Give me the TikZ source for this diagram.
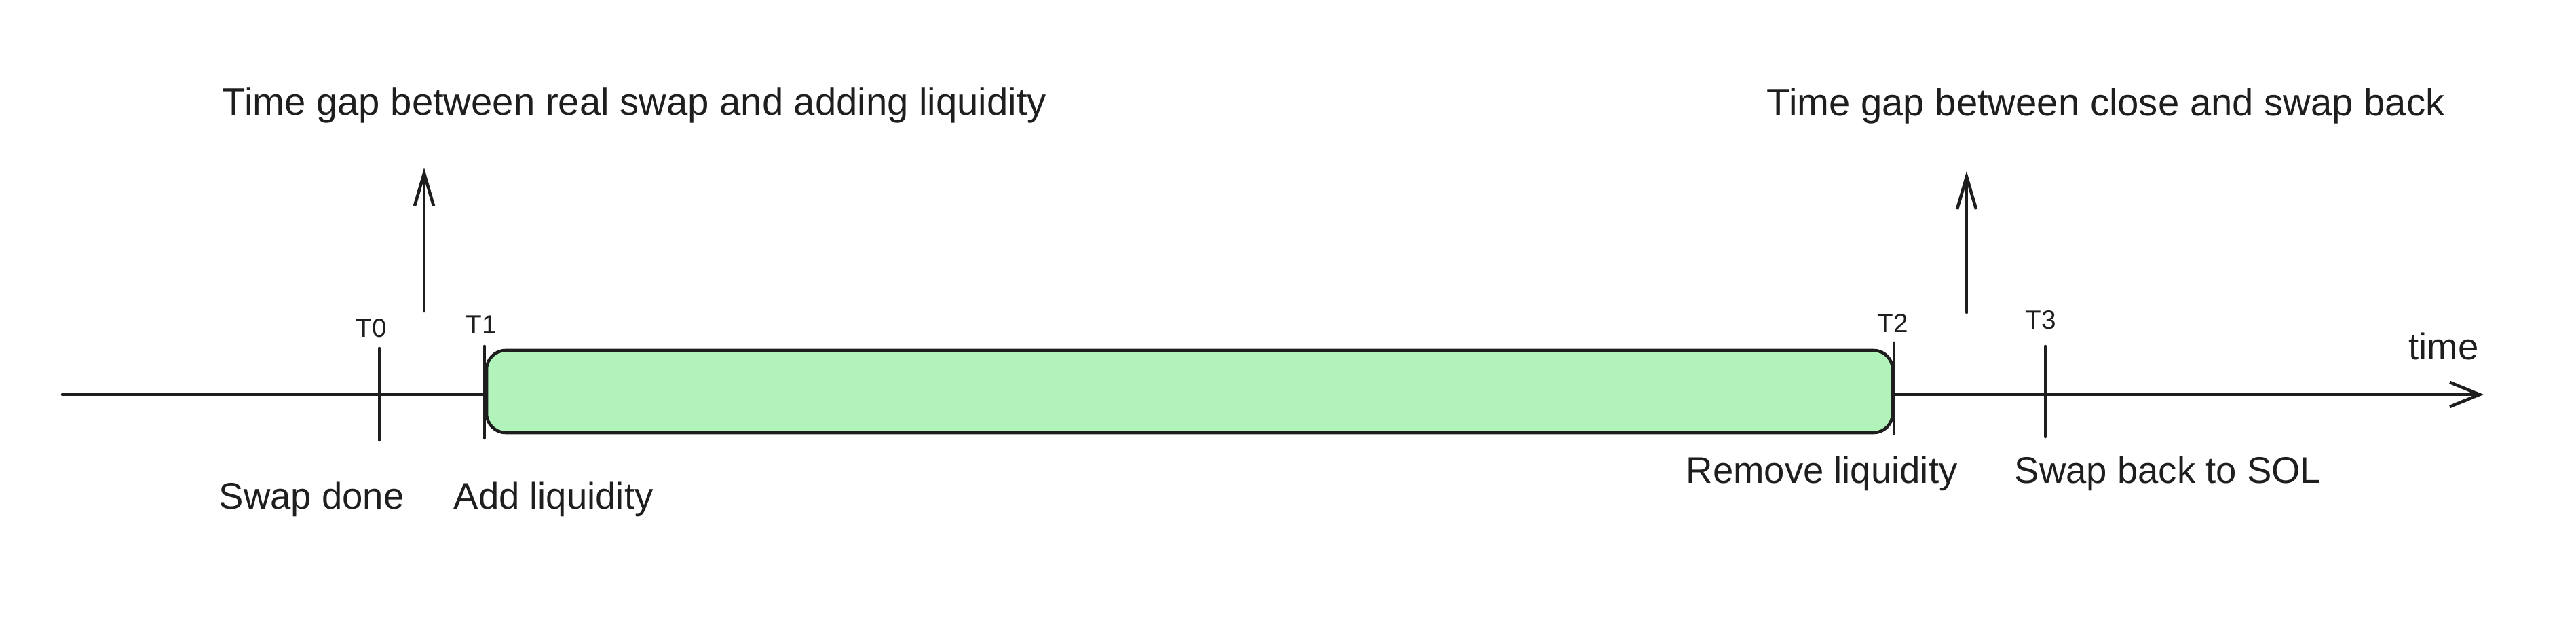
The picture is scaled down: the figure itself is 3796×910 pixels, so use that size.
\documentclass[tikz,border=0pt]{standalone}
\usepackage{fontspec}
\setmainfont{Liberation Sans}
\usetikzlibrary{arrows.meta}
\definecolor{ink}{HTML}{1E1E1E}
\definecolor{boxgreen}{HTML}{B2F2BB}
\tikzset{
  px/.style={x=0.01cm,y=-0.01cm},
  tickline/.style={draw=ink,line width=1.3pt,line cap=round},
  gaparrow/.style={draw=ink,line width=1.3pt,line cap=round,-{Straight Barb[length=0.48cm,width=0.28cm,line width=1.3pt]}},
  timearrow/.style={draw=ink,line width=1.3pt,line cap=round,-{Straight Barb[length=0.44cm,width=0.36cm,line width=1.3pt]}},
  phasebox/.style={draw=ink,fill=boxgreen,line width=1.3pt,rounded corners=0.28cm},
  bigtext/.style={text=ink,inner sep=0pt,font=\fontsize{16}{19}\selectfont},
  midtext/.style={text=ink,inner sep=0pt,font=\fontsize{15.5}{18}\selectfont},
  ticktext/.style={text=ink,inner sep=0pt,font=\fontsize{11}{13}\selectfont},
}
\begin{document}
\begin{tikzpicture}[px]
\useasboundingbox (0,0) rectangle (3796,910);
% axis
\coordinate (axs) at (92,581);
\coordinate (axe) at (3660,581);
\draw[timearrow] (axs) -- (axe);
% phase box
\draw[phasebox] (717,516) rectangle (2789,637);
% ticks
\coordinate (t0a) at (559,513); \coordinate (t0b) at (559,648);
\coordinate (t1a) at (714,510); \coordinate (t1b) at (714,645);
\coordinate (t2a) at (2791,505); \coordinate (t2b) at (2791,638);
\coordinate (t3a) at (3014,510); \coordinate (t3b) at (3014,643);
\draw[tickline] (t0a) -- (t0b);
\draw[tickline] (t1a) -- (t1b);
\draw[tickline] (t2a) -- (t2b);
\draw[tickline] (t3a) -- (t3b);
% tick labels
\node[ticktext,anchor=base] (lt0) at (547,497) {T0};
\node[ticktext,anchor=base] (lt1) at (709,492) {T1};
\node[ticktext,anchor=base] (lt2) at (2789,490) {T2};
\node[ticktext,anchor=base] (lt3) at (3007,485) {T3};
% time label
\node[midtext,anchor=base west] (time) at (3549,530) {time};
% titles
\node[bigtext,anchor=base west] (title1) at (327,170) {Time gap between real swap and adding liquidity};
\node[bigtext,anchor=base west] (title2) at (2603,171) {Time gap between close and swap back};
% gap arrows
\coordinate (g1s) at (625,458); \coordinate (g1e) at (625,247);
\coordinate (g2s) at (2898,460); \coordinate (g2e) at (2898,252);
\draw[gaparrow] (g1s) -- (g1e);
\draw[gaparrow] (g2s) -- (g2e);
% event labels
\node[midtext,anchor=base west] (swapdone) at (322,750) {Swap done};
\node[midtext,anchor=base west] (addliq) at (668,750) {Add liquidity};
\node[midtext,anchor=base west] (remliq) at (2484,712) {Remove liquidity};
\node[midtext,anchor=base west] (swapback) at (2968,712) {Swap back to SOL};
\end{tikzpicture}
\end{document}
